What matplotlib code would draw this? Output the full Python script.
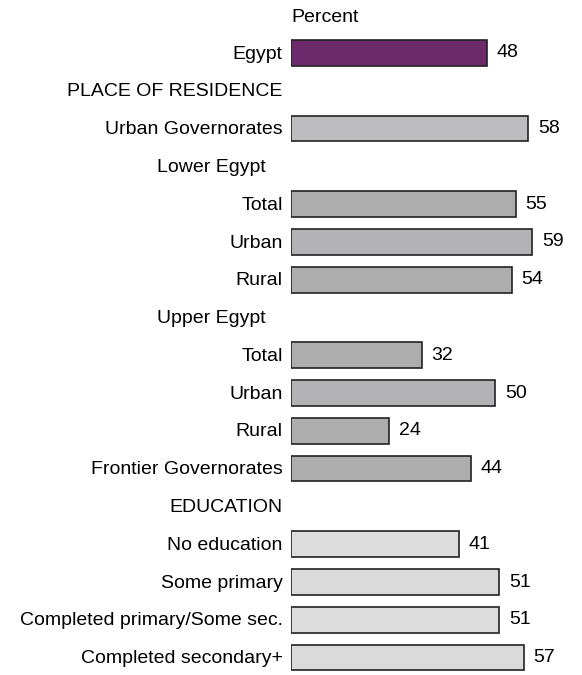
import matplotlib.pyplot as plt

plt.rcParams['font.family'] = ['Liberation Sans', 'DejaVu Sans']

labels = ["Egypt", "PLACE OF RESIDENCE", "Urban Governorates", "Lower Egypt",
          "Total", "Urban", "Rural", "Upper Egypt", "Total", "Urban", "Rural",
          "Frontier Governorates", "EDUCATION", "No education", "Some primary",
          "Completed primary/Some sec.", "Completed secondary+"]
values = [48, None, 58, None, 55, 59, 54, None, 32, 50, 24, 44, None,
          41, 51, 51, 57]
colors = ["#6c2a6a", None, "#bdbcbe", None, "#adadad", "#b3b3b5", "#adadad",
          None, "#adadad", "#b3b3b5", "#adadad", "#adadad", None,
          "#dcdcdc", "#dadada", "#dcdcdc", "#dadada"]
# sub-headers sit a little further left
indent = [0, 0, 0, 1, 0, 0, 0, 1, 0, 0, 0, 0, 0, 0, 0, 0, 0]

fig = plt.figure(figsize=(5.82, 6.75), dpi=100)
ax = fig.add_axes([291 / 582, 0, 286 / 582, 1])
ax.set_xlim(0, 70)
ax.set_ylim(16.46, -1.40)
ax.axis("off")

fs = 14
for i, (lab, v, c) in enumerate(zip(labels, values, colors)):
    xt = -2.0 - 4.3 * indent[i]
    ax.text(xt, i + 0.03, lab, ha="right", va="center", fontsize=fs,
            clip_on=False)
    if v is None:
        continue
    ax.barh(i, v, height=0.68, color=c, edgecolor="#222222", linewidth=1.2)
    ax.text(v + 2.4, i, str(v), ha="left", va="center", fontsize=fs)

ax.text(0, -0.93, "Percent", ha="left", va="center", fontsize=fs)

fig.savefig("out.png", dpi=100)
plt.close()
